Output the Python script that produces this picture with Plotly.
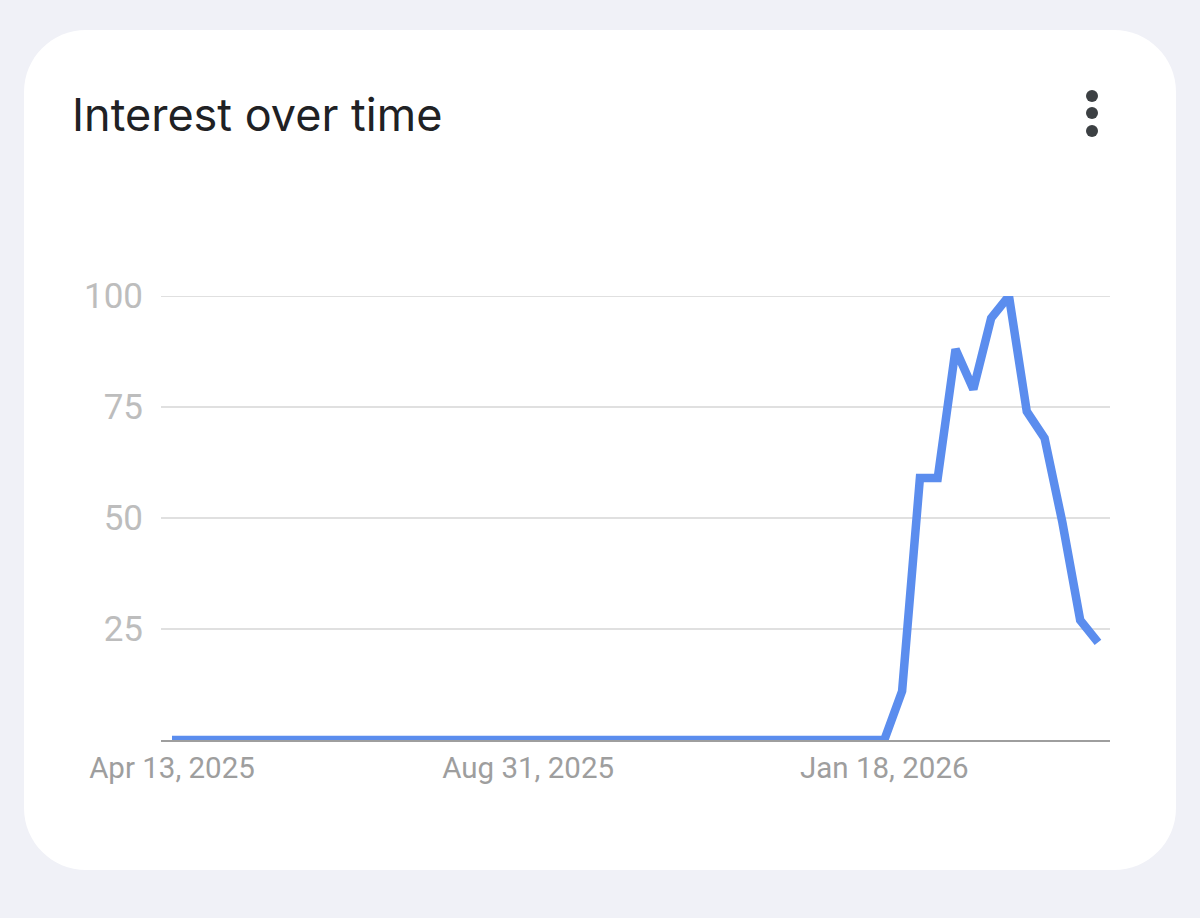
import plotly.graph_objects as go
import pandas as pd

# ---- data ----
start_date = "2025-04-13"
n_weeks = 53
weeks = pd.date_range(start_date, periods=n_weeks, freq="7D")
interest = [0, 0, 0, 0, 0, 0, 0, 0, 0, 0,
            0, 0, 0, 0, 0, 0, 0, 0, 0, 0,
            0, 0, 0, 0, 0, 0, 0, 0, 0, 0,
            0, 0, 0, 0, 0, 0, 0, 0, 0, 0,
            0, 11, 59, 59, 88, 79, 95, 100, 74, 68, 49, 27, 22]
x_tick_dates = ["2025-04-13", "2025-08-31", "2026-01-18"]
x_tick_labels = ["Apr 13, 2025", "Aug 31, 2025", "Jan 18, 2026"]
y_tick_vals = [25, 50, 75, 100]
y_tick_labels = ["25", "50", "75", "100"]
title_text = "Interest over time"

# ---- layout geometry (pixels) ----
W, H = 1200, 918
PL, PR, PT, PB = 161, 1110, 296, 740  # plot area


def px(x):
    return (x - PL) / (PR - PL)


def py(y):
    return (PB - y) / (PB - PT)


def rounded_rect(x0, y0, x1, y1, r):
    k = 0.5523 * r
    pts = []
    pts.append(f"M {px(x0 + r)},{py(y0)}")
    pts.append(f"L {px(x1 - r)},{py(y0)}")
    pts.append(f"C {px(x1 - r + k)},{py(y0)} {px(x1)},{py(y0 + r - k)} {px(x1)},{py(y0 + r)}")
    pts.append(f"L {px(x1)},{py(y1 - r)}")
    pts.append(f"C {px(x1)},{py(y1 - r + k)} {px(x1 - r + k)},{py(y1)} {px(x1 - r)},{py(y1)}")
    pts.append(f"L {px(x0 + r)},{py(y1)}")
    pts.append(f"C {px(x0 + r - k)},{py(y1)} {px(x0)},{py(y1 - r + k)} {px(x0)},{py(y1 - r)}")
    pts.append(f"L {px(x0)},{py(y0 + r)}")
    pts.append(f"C {px(x0)},{py(y0 + r - k)} {px(x0 + r - k)},{py(y0)} {px(x0 + r)},{py(y0)}")
    pts.append("Z")
    return " ".join(pts)


fig = go.Figure()
fig.add_trace(go.Scatter(
    x=weeks, y=interest, mode="lines",
    line=dict(color="#5B8DEE", width=8.5, shape="linear"),
    hoverinfo="skip", showlegend=False,
))

shapes = [
    dict(type="path", xref="paper", yref="paper", layer="below",
         path=rounded_rect(24, 30, 1176, 870, 62),
         fillcolor="#FFFFFF", line=dict(width=0)),
    # top gridline (Plotly omits the grid line lying on the plot edge)
    dict(type="line", xref="paper", yref="y", layer="below",
         x0=0, x1=1, y0=y_tick_vals[-1], y1=y_tick_vals[-1],
         line=dict(color="#E0E0E0", width=2)),
]
for cy in (96, 113, 131):
    r = 6
    shapes.append(dict(type="circle", xref="paper", yref="paper",
                       x0=px(1092 - r), x1=px(1092 + r), y0=py(cy + r), y1=py(cy - r),
                       fillcolor="#3C4043", line=dict(width=0)))

fig.update_layout(
    width=W, height=H,
    margin=dict(l=PL, r=W - PR, t=PT, b=H - PB, pad=0),
    paper_bgcolor="#F0F1F7",
    plot_bgcolor="rgba(0,0,0,0)",
    shapes=shapes,
    annotations=[dict(text=title_text, xref="paper", yref="paper",
                      x=px(70), y=py(114), xanchor="left", yanchor="middle",
                      showarrow=False,
                      font=dict(family="Inter, Roboto, sans-serif", size=45, color="#202124"))],
    xaxis=dict(
        type="date",
        range=["2025-04-08 16:20", "2026-04-16 17:17"],
        tickvals=x_tick_dates, ticktext=x_tick_labels,
        tickfont=dict(family="Roboto", size=29.5, color="#9E9E9E"),
        showgrid=False, zeroline=False,
        showline=True, linecolor="#9E9E9E", linewidth=2,
        ticks="outside", ticklen=1, tickcolor="rgba(0,0,0,0)",
        fixedrange=True,
    ),
    yaxis=dict(
        range=[0, 100],
        tickvals=y_tick_vals, ticktext=y_tick_labels,
        tickfont=dict(family="Roboto", size=35, color="#BDBDBD"),
        showgrid=True, gridcolor="#E0E0E0", gridwidth=2,
        zeroline=False, showline=False,
        ticks="outside", ticklen=10, tickcolor="rgba(0,0,0,0)",
        fixedrange=True,
    ),
)

fig.write_html("out.html", config={"displayModeBar": False},
               post_script="document.body.style.margin='0';")
